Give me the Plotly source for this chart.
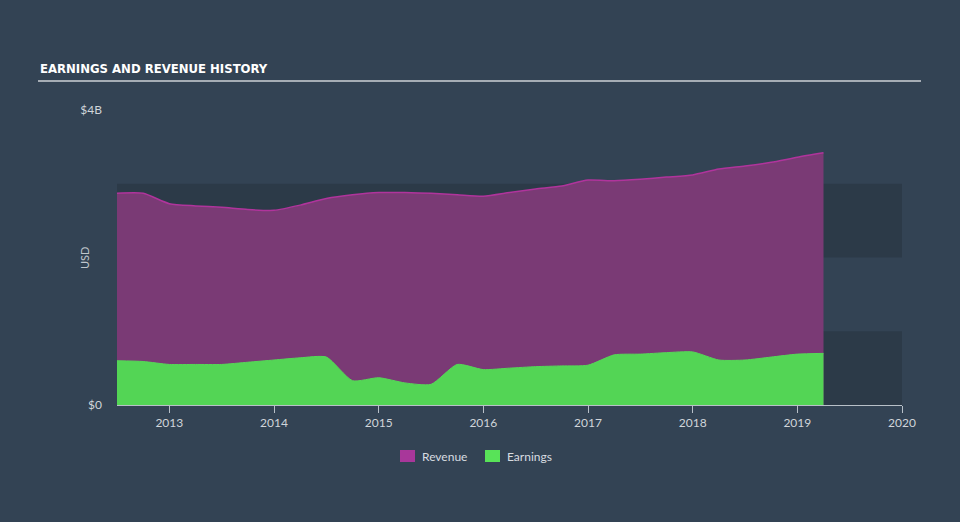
import plotly.graph_objects as go

years = [2012.5, 2012.75, 2013.0, 2013.25, 2013.5, 2013.75, 2014.0, 2014.25, 2014.5, 2014.75,
         2015.0, 2015.25, 2015.5, 2015.75, 2016.0, 2016.25, 2016.5, 2016.75, 2017.0, 2017.25,
         2017.5, 2017.75, 2018.0, 2018.25, 2018.5, 2018.75, 2019.0, 2019.25]
revenue = [2.87, 2.87, 2.73, 2.70, 2.68, 2.65, 2.64, 2.71, 2.80, 2.85,
           2.88, 2.88, 2.87, 2.85, 2.83, 2.88, 2.93, 2.97, 3.05, 3.04,
           3.06, 3.09, 3.12, 3.20, 3.24, 3.29, 3.36, 3.42]
earnings = [0.60, 0.59, 0.55, 0.55, 0.55, 0.58, 0.61, 0.64, 0.65, 0.33,
            0.37, 0.30, 0.28, 0.55, 0.48, 0.50, 0.52, 0.53, 0.54, 0.68,
            0.69, 0.71, 0.72, 0.61, 0.61, 0.65, 0.69, 0.70]
tick_years = [2013, 2014, 2015, 2016, 2017, 2018, 2019, 2020]
y_ticks = [0, 4]
y_labels = ["$0", "$4B"]
legend_names = ["Revenue", "Earnings"]
legend_colors = ["#a8379a", "#58e358"]

BG = "#334354"
BAND = "#2c3a48"

# plot area in pixels: left 117, right 902, top 110, bottom 405
def px(x):
    return (x - 117) / 785

def py(y):
    return (405 - y) / 295

fig = go.Figure()
fig.add_trace(go.Scatter(
    x=years, y=revenue, name="Revenue", mode="lines", showlegend=False,
    line=dict(color="#b0349c", width=1.5, shape="spline", smoothing=0.6),
    fill="tozeroy", fillcolor="#7a3a75",
))
fig.add_trace(go.Scatter(
    x=years, y=earnings, name="Earnings", mode="lines", showlegend=False,
    line=dict(color="#55d957", width=1, shape="spline", smoothing=0.6),
    fill="tozeroy", fillcolor="#53d555",
))

shapes = []
for y0, y1 in [(0, 1), (2, 3)]:
    shapes.append(dict(type="rect", xref="paper", yref="y", x0=0, x1=1, y0=y0, y1=y1,
                       fillcolor=BAND, line=dict(width=0), layer="below"))
# title underline
shapes.append(dict(type="line", xref="paper", yref="paper",
                   x0=px(38), x1=px(921), y0=py(81), y1=py(81),
                   line=dict(color="#a6adb5", width=2)))

annotations = [
    dict(text="<b>EARNINGS AND REVENUE HISTORY</b>", xref="paper", yref="paper",
         x=px(38), y=py(68), xanchor="left", yanchor="middle", showarrow=False,
         font=dict(family="DejaVu Sans Condensed, Liberation Sans Narrow, sans-serif",
                   size=13, color="#ffffff")),
    dict(text="USD", xref="paper", yref="paper", x=px(84), y=py(258),
         xanchor="center", yanchor="middle", textangle=-90, showarrow=False,
         font=dict(size=11, color="#c0c6cc")),
]

# manual legend
legend_sq_x = [400, 485]
for name, col, lx in zip(legend_names, legend_colors, legend_sq_x):
    shapes.append(dict(type="rect", xref="paper", yref="paper",
                       x0=px(lx), x1=px(lx + 15), y0=py(462), y1=py(450),
                       fillcolor=col, line=dict(width=0)))
    annotations.append(dict(text=name, xref="paper", yref="paper", x=px(lx + 20), y=py(456),
                            xanchor="left", yanchor="middle", showarrow=False,
                            font=dict(size=12, color="#d8dce0")))

fig.update_layout(
    width=960, height=522,
    paper_bgcolor=BG, plot_bgcolor=BG,
    margin=dict(l=117, r=58, t=110, b=117),
    font=dict(family="Lato, Open Sans, sans-serif", color="#d0d5da", size=12),
    shapes=shapes,
    annotations=annotations,
    showlegend=False,
)
fig.update_xaxes(range=[2012.5, 2020], tickvals=tick_years, ticktext=[str(t) for t in tick_years],
                 showgrid=False, zeroline=False, showline=True, linecolor="#b8c0c8", linewidth=1,
                 ticks="outside", ticklen=7, tickcolor="#b8c0c8", tickfont=dict(size=12, color="#d0d5da"))
fig.update_yaxes(range=[0, 4], tickvals=y_ticks, ticktext=y_labels, showgrid=False, zeroline=False,
                 showline=False, ticks="", ticklabelstandoff=14,
                 tickfont=dict(size=12, color="#d0d5da"))

fig.write_html("out.html")
